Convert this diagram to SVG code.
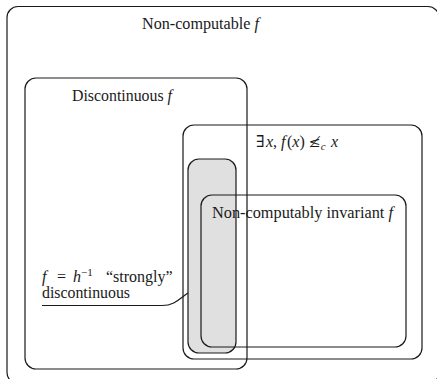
<svg xmlns="http://www.w3.org/2000/svg" width="437" height="379" viewBox="0 0 437 379">
  <style>
    .box { fill: none; stroke: #1a1a1a; stroke-width: 1.2; }
    .gray { fill: #e0e0e0; stroke: #1a1a1a; stroke-width: 1.2; }
    .lbl { font-size: 16px; fill: #1a1a1a; }
    .it { font-style: italic; }
    .conn { fill: none; stroke: #1a1a1a; stroke-width: 1.2; }
  </style>
  <rect width="437" height="379" fill="#ffffff"/>
  <g id="noncomputable">
    <rect class="box" x="7" y="6.5" width="432" height="377" rx="11" ry="11"/>
    <text class="lbl" font-family="Liberation Serif, DejaVu Serif, serif" x="142" y="29" textLength="117" lengthAdjust="spacingAndGlyphs">Non-computable <tspan class="it">f</tspan></text>
  </g>
  <g id="discontinuous">
    <rect class="box" x="25" y="78" width="222" height="291" rx="11" ry="11"/>
    <text class="lbl" font-family="Liberation Serif, DejaVu Serif, serif" x="72" y="101" textLength="100" lengthAdjust="spacingAndGlyphs">Discontinuous <tspan class="it">f</tspan></text>
  </g>
  <g id="exists">
    <rect class="box" x="183" y="125" width="239" height="234" rx="11" ry="11"/>
    <text class="lbl" font-family="Liberation Serif, DejaVu Serif, serif" x="256" y="147">∃<tspan class="it" x="266">x</tspan>,<tspan class="it" x="281">f</tspan><tspan x="287">(</tspan><tspan class="it">x</tspan>)<tspan x="309" font-family="DejaVu Serif, serif" font-size="14">≰</tspan><tspan class="it" font-size="11" dy="3">c</tspan><tspan class="it" x="331" dy="-3">x</tspan></text>
  </g>
  <g id="strongly">
    <rect class="gray" x="188" y="159" width="48" height="194" rx="11" ry="11"/>
  </g>
  <g id="invariant">
    <rect class="box" x="201" y="195" width="205" height="152" rx="11" ry="11"/>
    <text class="lbl" font-family="Liberation Serif, DejaVu Serif, serif" x="212" y="218" textLength="181" lengthAdjust="spacingAndGlyphs">Non-computably invariant <tspan class="it">f</tspan></text>
  </g>
  <g id="strongly-label">
    <text class="lbl" font-family="Liberation Serif, DejaVu Serif, serif" x="42" y="282"><tspan class="it">f</tspan><tspan x="57">=</tspan><tspan class="it" x="73">h</tspan><tspan font-size="11" dy="-6">−1</tspan><tspan x="106" dy="6">“strongly”</tspan></text>
    <text class="lbl" font-family="Liberation Serif, DejaVu Serif, serif" x="42" y="298" textLength="88" lengthAdjust="spacingAndGlyphs">discontinuous</text>
  </g>
  <g id="connectors">
    <path class="conn" d="M42,305.5 L162,305.5 C175,305.5 180,298 188,293"/>
  </g>
</svg>
